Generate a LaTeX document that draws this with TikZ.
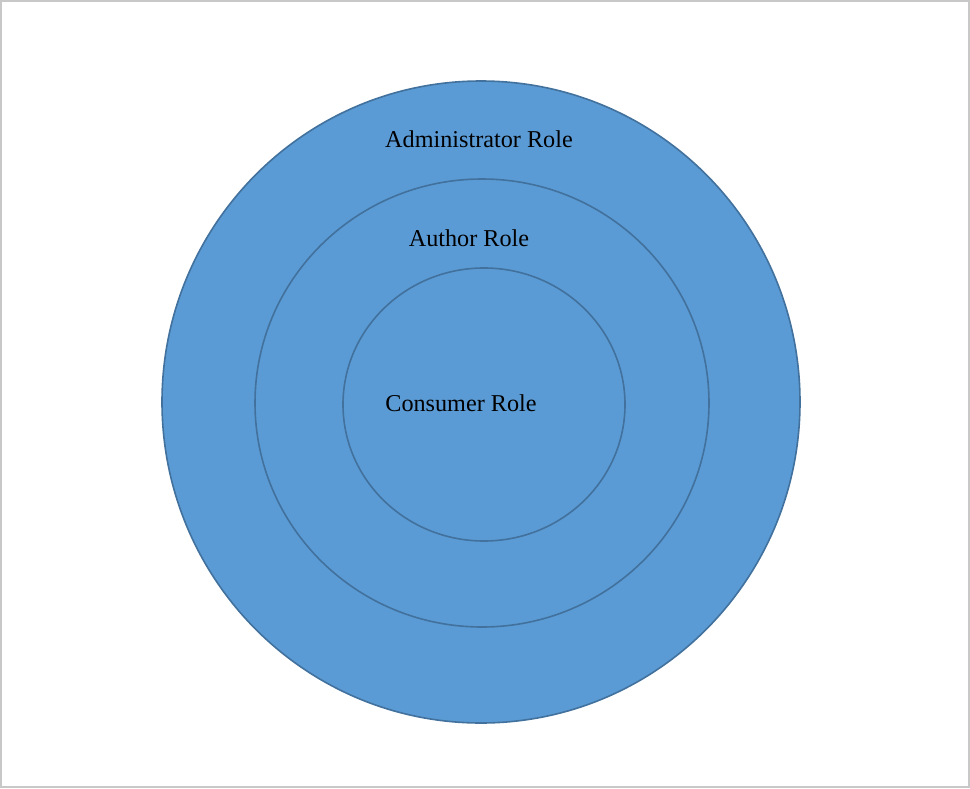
\documentclass[tikz,border=0pt]{standalone}
\usepackage{fontspec}
\setmainfont{Liberation Serif}
\usepackage{tikz}
\definecolor{rolefill}{HTML}{5B9BD5}
\definecolor{roleline}{HTML}{41719C}
\definecolor{frame}{HTML}{C8C8C8}
\begin{document}
\begin{tikzpicture}[x=0.5pt,y=-0.5pt,line width=0.8pt,
    role/.style={fill=rolefill,draw=roleline},
    label/.style={inner sep=0pt,font=\fontsize{12.1}{14}\selectfont}]
            \useasboundingbox (0,0) rectangle (970,788);
            \draw[frame,line width=0.8pt] (0.8,0.8) rectangle (969.2,787.2);
            \draw[role] (481,402) ellipse [x radius=319,y radius=321];
            \draw[role] (482,403) ellipse [x radius=227,y radius=224];
            \draw[role] (484,404.5) ellipse [x radius=141,y radius=136.5];
            \node[label] (admin) at (479,139) {Administrator Role};
            \node[label] (author) at (469,238) {Author Role};
            \node[label] (consumer) at (461,403) {Consumer Role};
        \end{tikzpicture}
\end{document}
